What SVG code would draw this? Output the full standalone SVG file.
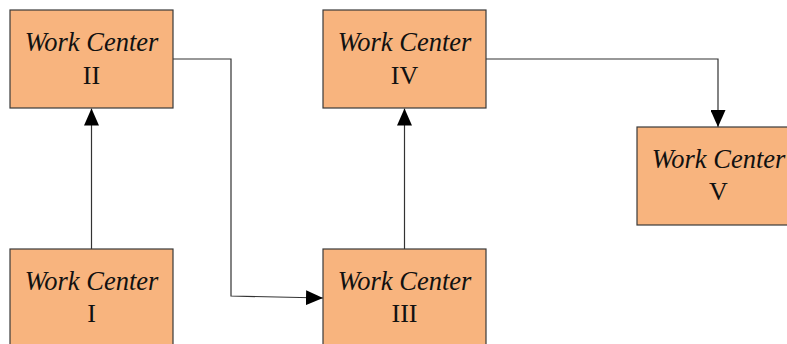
<svg xmlns="http://www.w3.org/2000/svg" width="787" height="344" viewBox="0 0 787 344">
  <defs>
    <style>
      .box { fill: #F8B47E; stroke: #3a3a3a; stroke-width: 1.2; }
      .t1 { font-family: "Liberation Serif", "Times New Roman", serif; font-style: italic; font-size: 26.5px; fill: #111; text-anchor: middle; }
      .t2 { font-family: "Liberation Serif", "Times New Roman", serif; font-size: 26px; fill: #111; text-anchor: middle; }
      .link { fill: none; stroke: #333; stroke-width: 1.2; }
    </style>
    <marker id="arrow" viewBox="0 0 17 15" refX="17" refY="7.5" markerWidth="17" markerHeight="15" markerUnits="userSpaceOnUse" orient="auto">
      <path d="M0,0 L17,7.5 L0,15 Z" fill="#000"/>
    </marker>
  </defs>
  <rect width="787" height="344" fill="#fff"/>

  <g id="connectors">
    <path class="link" d="M91.5,249 L91.5,108.5" marker-end="url(#arrow)"/>
    <path class="link" d="M173,59 L231,59 L231,296 L323,298" marker-end="url(#arrow)"/>
    <path class="link" d="M404.5,249 L404.5,108.5" marker-end="url(#arrow)"/>
    <path class="link" d="M486,59 L718,59 L718,127" marker-end="url(#arrow)"/>
  </g>

  <g id="wc-2">
    <rect class="box" x="10" y="10" width="163" height="98"/>
    <text class="t1" x="91.5" y="51">Work Center</text>
    <text class="t2" x="91.5" y="83.5">II</text>
  </g>
  <g id="wc-1">
    <rect class="box" x="10" y="249" width="163" height="98"/>
    <text class="t1" x="91.5" y="290">Work Center</text>
    <text class="t2" x="91.5" y="322">I</text>
  </g>
  <g id="wc-4">
    <rect class="box" x="323" y="10" width="163" height="98"/>
    <text class="t1" x="404.5" y="51">Work Center</text>
    <text class="t2" x="404.5" y="83.5">IV</text>
  </g>
  <g id="wc-3">
    <rect class="box" x="323" y="249" width="163" height="98"/>
    <text class="t1" x="404.5" y="290">Work Center</text>
    <text class="t2" x="404.5" y="322">III</text>
  </g>
  <g id="wc-5">
    <rect class="box" x="637" y="127" width="163" height="98"/>
    <text class="t1" x="718.5" y="168">Work Center</text>
    <text class="t2" x="718.5" y="200">V</text>
  </g>
</svg>
